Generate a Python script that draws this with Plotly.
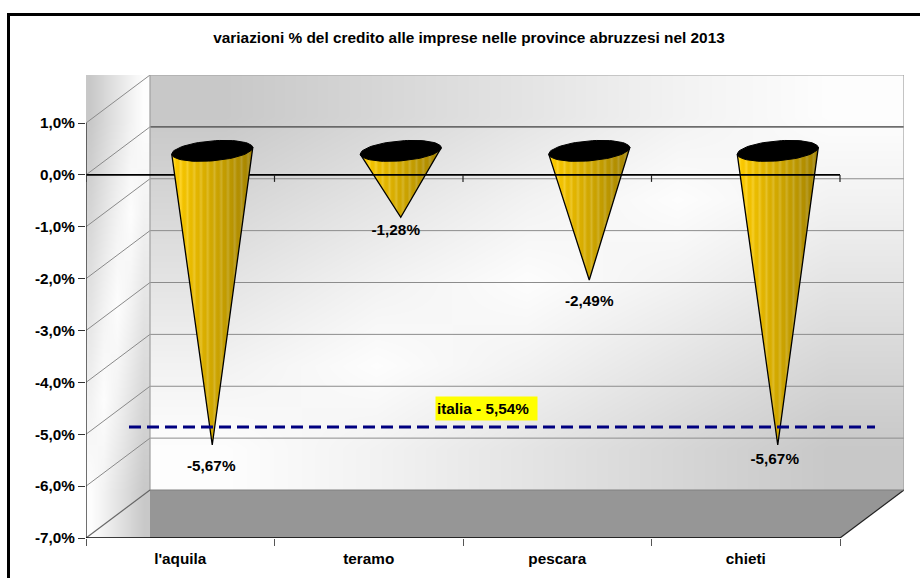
import plotly.graph_objects as go
from math import cos, sin, pi

categories = ["l'aquila", "teramo", "pescara", "chieti"]
values = [-5.67, -1.28, -2.49, -5.67]
value_labels = ["-5,67%", "-1,28%", "-2,49%", "-5,67%"]
y_ticks = [1, 0, -1, -2, -3, -4, -5, -6, -7]
y_tick_labels = ["1,0%", "0,0%", "-1,0%", "-2,0%", "-3,0%", "-4,0%", "-5,0%", "-6,0%", "-7,0%"]
reference_label = "italia - 5,54%"
reference_level = -4.86

# scale of the drawing (pixels per axis unit) and its receding depth
PX_X, PX_Y = 188.5, 51.875
DEPTH_X, DEPTH_Y = 64 / PX_X, 48 / PX_Y
N = len(categories)
FONT = "Liberation Sans, Arial, sans-serif"
TEXT_SIZE = 15.3

x_max, y_max = N + DEPTH_X, 1 + DEPTH_Y
wall_shade = [
    [200, 214, 228, 242, 253],
    [214, 228, 242, 253, 242],
    [228, 242, 253, 242, 228],
    [242, 253, 242, 228, 214],
    [253, 242, 228, 214, 200],
]

fig = go.Figure()


def shade_panel(x0, x1, y_bottom, y_top):
    dx, dy = (x1 - x0) / 5, (y_top - y_bottom) / 5
    fig.add_trace(go.Heatmap(
        z=wall_shade[::-1], x0=x0 + dx / 2, dx=dx, y0=y_bottom + dy / 2, dy=dy,
        zsmooth="best", zmin=0, zmax=255, showscale=False, hoverinfo="skip",
        colorscale=[[0, "#000000"], [1, "#ffffff"]],
    ))


def line(xs, ys, color, width, dash=None):
    fig.add_trace(go.Scatter(
        x=xs, y=ys, mode="lines", line=dict(color=color, width=width, dash=dash),
        hoverinfo="skip", cliponaxis=False,
    ))


shade_panel(DEPTH_X, x_max, -7 + DEPTH_Y, y_max)
shade_panel(-0.01, DEPTH_X, -7, y_max)

# floor
fig.add_trace(go.Scatter(
    x=[DEPTH_X, x_max, N, DEPTH_X, DEPTH_X], y=[-7 + DEPTH_Y, -7 + DEPTH_Y, -7, -7, -7 + DEPTH_Y],
    mode="lines", fill="toself", fillcolor="#969696", line=dict(width=0), hoverinfo="skip",
))

# wall gridlines
gx, gy, dx_, dy_ = [], [], [], []
for t in y_ticks:
    if t == -7:
        continue
    if t != 1:
        gx += [DEPTH_X, x_max, None]
        gy += [t + DEPTH_Y, t + DEPTH_Y, None]
    dx_ += [0, DEPTH_X, None]
    dy_ += [t, t + DEPTH_Y, None]
line(gx, gy, "#8c8c8c", 1)
line([DEPTH_X, x_max], [DEPTH_Y, DEPTH_Y], "#555555", 1.4)
line(dx_, dy_, "#8a8a8a", 1)
line([DEPTH_X, DEPTH_X, x_max, x_max], [-7 + DEPTH_Y, y_max, y_max, -7 + DEPTH_Y], "#a0a0a0", 1.2)
line([0, DEPTH_X], [-7, -7 + DEPTH_Y], "#666666", 1.2)
line([N, x_max], [-7, -7 + DEPTH_Y], "#222222", 1.2)
line([DEPTH_X, x_max], [-7 + DEPTH_Y, -7 + DEPTH_Y], "#808080", 1)

# cone shading: a fine pattern of pale streaks over a dark-going gold
cone_stops = []
STREAKS = 36
for k in range(STREAKS + 1):
    f = k / STREAKS
    r, g = round(255 - 93 * f), round(204 - 74 * f)
    b = 0
    if k % 3 == 1:
        r, g, b = min(r + 8, 255), min(g + 16, 255), 42
    cone_stops.append([f, f"rgb({r},{g},{b})"])

RX, RY, TILT = 40.5 / PX_X, 10 / PX_Y, 3.2 / PX_Y
ELLIPSE_STEPS = 72

# first cone hides the zero axis; the others sit behind it
def cone(i, v):
    cx = i + 0.5 + DEPTH_X / 2
    cy = DEPTH_Y / 2
    fig.add_trace(go.Scatter(
        x=[cx - RX, cx, cx + RX, cx - RX], y=[cy - TILT, v + cy, cy + TILT, cy - TILT],
        mode="lines", fill="toself", line=dict(color="#000000", width=1.3),
        fillgradient=dict(type="horizontal", colorscale=cone_stops),
        hoverinfo="skip",
    ))


for i in range(1, N):
    cone(i, values[i])

# zero axis
line([-7 / PX_X, N], [0, 0], "#000000", 1.6)
tx, ty = [], []
for k in range(N + 1):
    tx += [k, k, None]
    ty += [0, -7 / PX_Y, None]
line(tx, ty, "#222222", 1.2)

cone(0, values[0])

# cone mouths
for i, v in enumerate(values):
    cx = i + 0.5 + DEPTH_X / 2
    cy = DEPTH_Y / 2
    angles = [2 * pi * k / ELLIPSE_STEPS for k in range(ELLIPSE_STEPS + 1)]
    fig.add_trace(go.Scatter(
        x=[cx + RX * cos(a) for a in angles],
        y=[cy + RY * sin(a) + TILT * cos(a) for a in angles],
        mode="lines", fill="toself", fillcolor="#000000", line=dict(color="#000000", width=1),
        hoverinfo="skip",
    ))

# value labels
label_x_shift = [-1 / PX_X, -5 / PX_X, 0, -3 / PX_X]
label_y_gap = [22, 14, 22, 15]
fig.add_trace(go.Scatter(
    x=[i + 0.5 + DEPTH_X / 2 + label_x_shift[i] for i in range(N)],
    y=[v + DEPTH_Y / 2 - label_y_gap[i] / PX_Y for i, v in enumerate(values)],
    mode="text", text=value_labels, textposition="middle center",
    textfont=dict(family=FONT, size=TEXT_SIZE, color="#000000"), texttemplate="<b>%{text}</b>",
    hoverinfo="skip", cliponaxis=False,
))

# axis lines
line([0, 0], [1, -7], "#333333", 1.4)
line([0, N], [-7, -7], "#000000", 1.6)

# reference line and its label
line([43 / PX_X, 789 / PX_X], [reference_level, reference_level], "#000080", 3, "12px,6px")
fig.add_annotation(
    x=(486.5 - 86) / PX_X, y=reference_level + 18 / PX_Y, xref="x", yref="y",
    text=f"<b>{reference_label}</b>", showarrow=False, bgcolor="#ffff00", align="left",
    width=99, height=21, font=dict(family=FONT, size=TEXT_SIZE, color="#000000"),
)

# frame running off the picture on the right and at the bottom
plot_w, plot_h = 818, 463
left, top = 86, 75
fig.add_shape(type="rect", xref="paper", yref="paper",
              x0=(8.5 - left) / plot_w, x1=(935 - left) / plot_w,
              y0=1 - (600 - top) / plot_h, y1=1 - (14.5 - top) / plot_h,
              line=dict(color="#000000", width=3), fillcolor="rgba(0,0,0,0)", layer="above")

fig.update_layout(
    width=920, height=578, showlegend=False, paper_bgcolor="#ffffff", plot_bgcolor="#ffffff",
    margin=dict(l=left, r=920 - left - plot_w, t=top, b=578 - top - plot_h, pad=0),
    font=dict(family=FONT, size=TEXT_SIZE, color="#000000"),
    title=dict(text="<b>variazioni % del credito alle imprese nelle province abruzzesi nel 2013</b>",
               x=469 / 920, xanchor="center", y=1 - 38 / 578, yanchor="middle",
               font=dict(family=FONT, size=15.4, color="#000000")),
    xaxis=dict(range=[0, x_max], showgrid=False, zeroline=False, showline=False,
               tickmode="array", tickvals=[k + 0.5 for k in range(N)],
               ticktext=[f"<b>{c}</b>" for c in categories], ticks="", ticklabelstandoff=10,
               minor=dict(tickmode="array", tickvals=list(range(N + 1)), ticks="outside",
                          ticklen=7, tickcolor="#555555", tickwidth=1.2, showgrid=False),
               tickfont=dict(family=FONT, size=TEXT_SIZE)),
    yaxis=dict(range=[-7, y_max], showgrid=False, zeroline=False, showline=False,
               tickmode="array", tickvals=y_ticks, ticktext=[f"<b>{t}</b>" for t in y_tick_labels],
               ticks="outside", ticklen=7, tickcolor="#333333", tickwidth=1.2,
               tickfont=dict(family=FONT, size=TEXT_SIZE)),
)

fig.write_html("out.html", config={"displayModeBar": False},
               post_script="document.body.style.margin='0';document.body.style.overflow='hidden';")
